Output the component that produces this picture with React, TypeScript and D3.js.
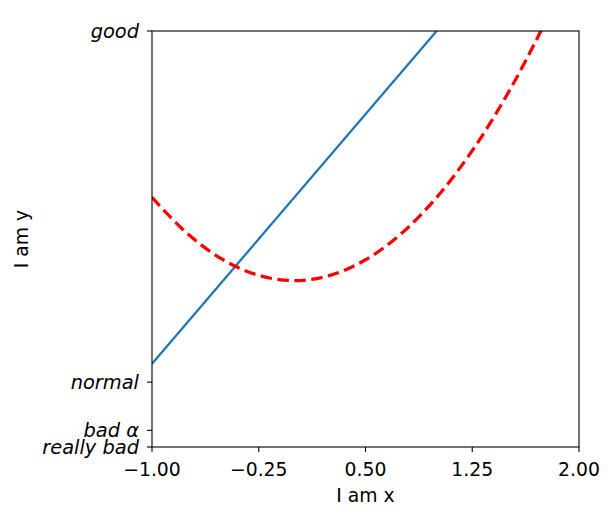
import React from "react";
import * as d3 from "d3";

const lineX = [-1, 1.5];
const lineY = [-1, 4];

const curveX = [-1, -0.75, -0.5, -0.25, 0, 0.25, 0.5, 0.75, 1, 1.25, 1.5, 1.75, 2];
const curveY = [1, 0.5625, 0.25, 0.0625, 0, 0.0625, 0.25, 0.5625, 1, 1.5625, 2.25, 3.0625, 4];

const xTicks = [-1, -0.25, 0.5, 1.25, 2];
const yTicks = [-2, -1.8, -1.22, 3];
const yTickLabels = ["really bad", "bad α", "normal", "good"];

const W = 616, H = 521;
const L = 152, R = 579, T = 31, B = 447;

export default function App() {
  const x = d3.scaleLinear().domain([-1, 2]).range([L, R]);
  const y = d3.scaleLinear().domain([-2, 3]).range([B, T]);
  const blue = d3.line<number>().x((_, i) => x(lineX[i])).y((d) => y(d))(lineY) || "";
  const red = d3.line<number>().x((_, i) => x(curveX[i])).y((d) => y(d)).curve(d3.curveCatmullRom)(curveY) || "";
  const fmt = (v: number) => (v < 0 ? "\u2212" : "") + Math.abs(v).toFixed(2);
  const font = "'DejaVu Sans', sans-serif";
  const fs = 18.8;
  const fsY = 19.4;
  return (
    <svg width={W} height={H} style={{ position: "absolute", left: 0, top: 0 }} fontFamily={font}>
      <rect width={W} height={H} fill="white" />
      <defs>
        <clipPath id="plot">
          <rect x={L} y={T} width={R - L} height={B - T} />
        </clipPath>
      </defs>
      <g clipPath="url(#plot)">
        <path d={blue} fill="none" stroke="#1f77b4" strokeWidth={2.3} />
        <path d={red} fill="none" stroke="red" strokeWidth={3.3} strokeDasharray="11.5,5.5" />
      </g>
      <rect x={L} y={T} width={R - L} height={B - T} fill="none" stroke="black" strokeWidth={1.1} />
      {xTicks.map((t) => (
        <g key={t}>
          <line x1={x(t)} x2={x(t)} y1={B} y2={B + 5} stroke="black" strokeWidth={1.1} />
          <text x={x(t)} y={B + 29} textAnchor="middle" fontSize={fs}>{fmt(t)}</text>
        </g>
      ))}
      {yTicks.map((t, i) => (
        <g key={t}>
          <line x1={L - 5} x2={L} y1={y(t)} y2={y(t)} stroke="black" strokeWidth={1.1} />
          <text x={L - 13} y={y(t)} dy="0.36em" textAnchor="end" fontSize={fsY} fontStyle="italic">{yTickLabels[i]}</text>
        </g>
      ))}
      <text x={(L + R) / 2} y={B + 55} textAnchor="middle" fontSize={fs}>I am x</text>
      <text transform={`translate(28,${(T + B) / 2}) rotate(-90)`} textAnchor="middle" fontSize={fs}>I am y</text>
    </svg>
  );
}
